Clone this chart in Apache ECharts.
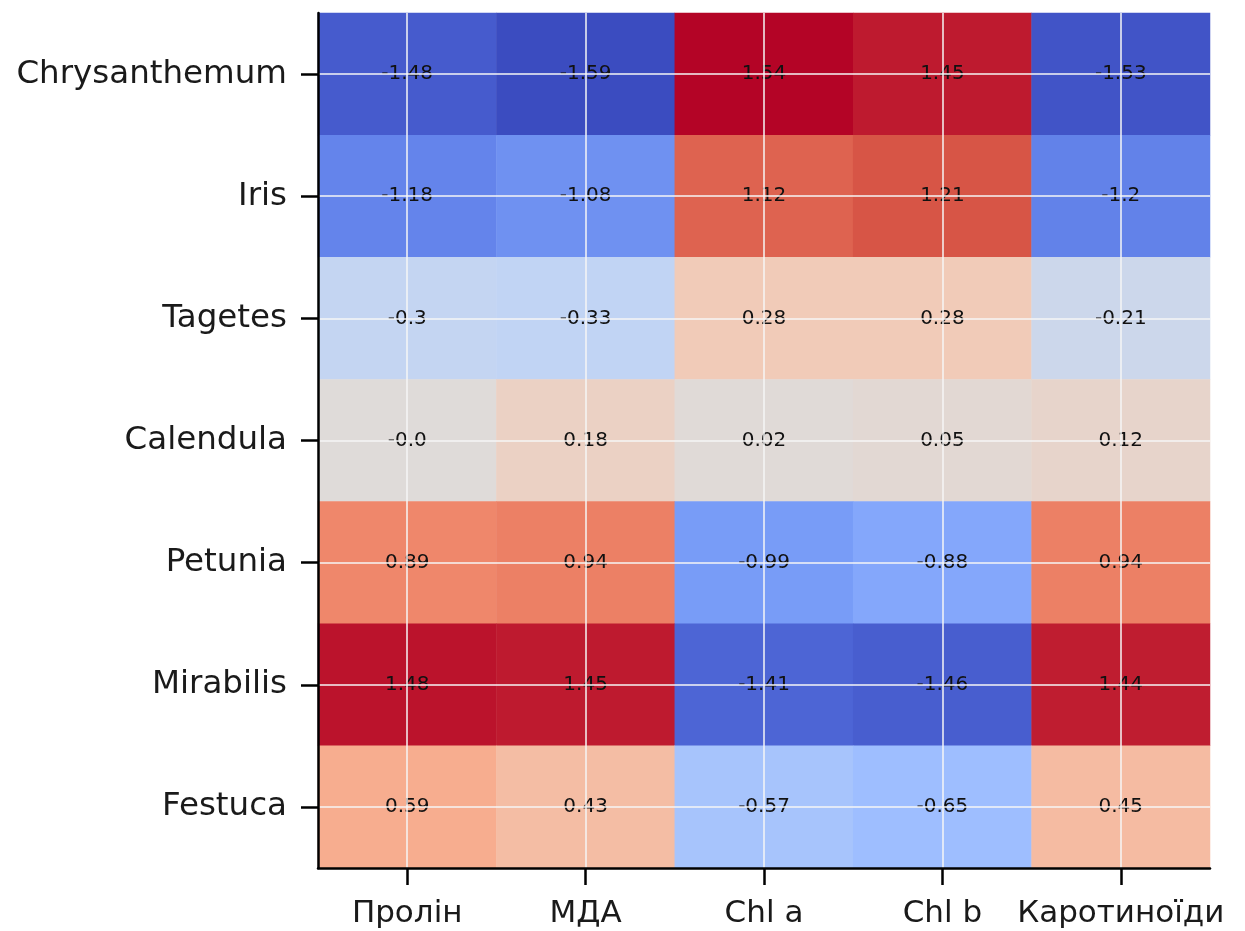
<!DOCTYPE html>
<html>
<head>
<meta charset="utf-8">
<script src="https://cdn.jsdelivr.net/npm/echarts@6/dist/echarts.min.js"></script>
<style>
html,body{margin:0;padding:0;background:#fff;}
#chart{width:1245px;height:931px;}
</style>
</head>
<body>
<div id="chart"></div>
<script>
const species = ['Chrysanthemum','Iris','Tagetes','Calendula','Petunia','Mirabilis','Festuca'];
const traits = ['Пролін','МДА','Chl a','Chl b','Каротиноїди'];
const chrysanthemum = [-1.48, -1.59, 1.54, 1.45, -1.53];
const iris = [-1.18, -1.08, 1.12, 1.21, -1.2];
const tagetes = [-0.3, -0.33, 0.28, 0.28, -0.21];
const calendula = [-0.0, 0.18, 0.02, 0.05, 0.12];
const petunia = [0.89, 0.94, -0.99, -0.88, 0.94];
const mirabilis = [1.48, 1.45, -1.41, -1.46, 1.44];
const festuca = [0.59, 0.43, -0.57, -0.65, 0.45];
const rows = [chrysanthemum, iris, tagetes, calendula, petunia, mirabilis, festuca];
const coolwarm = ['#3b4cc0','#5a78e4','#7b9ff9','#9ebeff','#c0d4f5','#dddcdc','#f2cbb7','#f7ac8e','#ee8468','#d65244','#b40426'];

const data = [];
rows.forEach((r, yi) => r.forEach((v, xi) => data.push([xi, yi, v])));
const allVals = rows.flat();
const vmin = Math.min(...allVals), vmax = Math.max(...allVals);

const font = 'DejaVu Sans';
const gridStyle = {color: 'rgba(245,245,245,0.75)', width: 2, type: 'solid'};
const markData = traits.map(t => ({xAxis: t})).concat(species.map(s => ({yAxis: s})));

const chart = echarts.init(document.getElementById('chart'), null, {renderer: 'canvas'});
chart.setOption({
  animation: false,
  backgroundColor: '#fff',
  grid: {left: 318, right: 35, top: 13, bottom: 63, containLabel: false},
  xAxis: {
    type: 'category', data: traits, z: 10,
    axisLine: {show: true, lineStyle: {color: '#000', width: 2.5}},
    axisTick: {show: true, alignWithLabel: true, length: 17, lineStyle: {color: '#000', width: 2.5}},
    axisLabel: {color: '#1a1a1a', fontSize: 31, fontFamily: font, margin: 30, interval: 0, hideOverlap: false},
    splitLine: {show: false}
  },
  yAxis: {
    type: 'category', data: species, inverse: true, z: 10,
    axisLine: {show: true, lineStyle: {color: '#000', width: 2.5}},
    axisTick: {show: true, alignWithLabel: true, length: 17, lineStyle: {color: '#000', width: 2.5}},
    axisLabel: {color: '#1a1a1a', fontSize: 32.5, fontFamily: font, margin: 31, interval: 0, padding: [8, 0, 0, 0]},
    splitLine: {show: false}
  },
  visualMap: {show: false, min: vmin, max: vmax, dimension: 2, inRange: {color: coolwarm}},
  series: [{
    type: 'heatmap',
    data: data,
    label: {
      show: true, color: '#111', fontSize: 20, fontFamily: font, padding: [4, 0, 0, 0],
      formatter: p => Object.is(p.value[2], -0) ? '-0.0' : String(p.value[2])
    },
    itemStyle: {borderWidth: 0},
    emphasis: {disabled: true},
    markLine: {
      silent: true, symbol: ['none','none'], label: {show: false},
      lineStyle: gridStyle, data: markData, animation: false
    }
  }]
});
</script>
</body>
</html>
